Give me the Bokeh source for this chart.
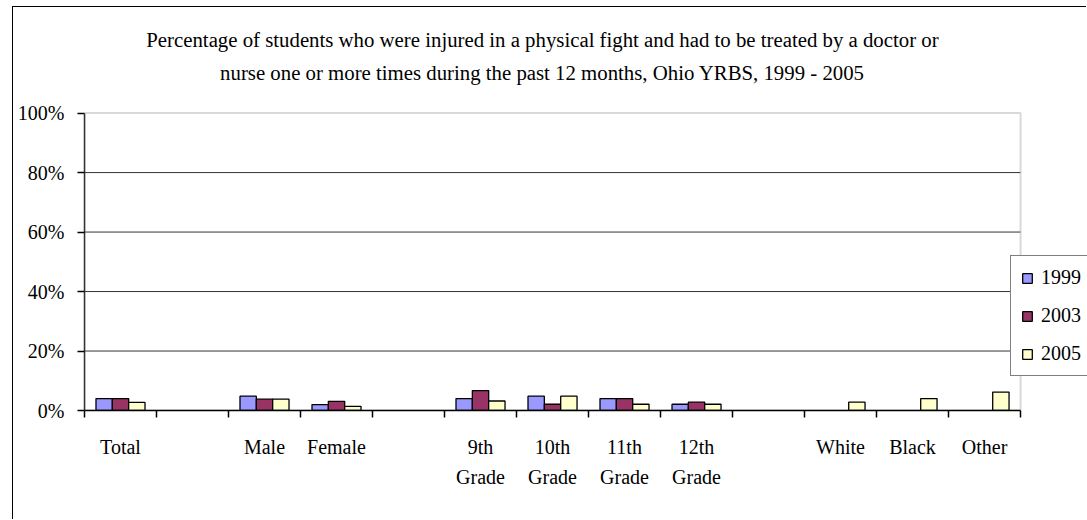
import numpy as np
from bokeh.plotting import figure
from bokeh.models import Range1d, FixedTicker, Label, Legend, LegendItem, ColumnDataSource, BoxAnnotation
from bokeh.transform import dodge
from bokeh.embed import file_html
from bokeh.resources import INLINE

title_text = ("Percentage of students who were injured in a physical fight and had to be treated by a doctor or\n"
              "nurse one or more times during the past 12 months, Ohio YRBS, 1999 - 2005")
categories = ["Total", "", "Male", "Female", "", "9th\nGrade", "10th\nGrade", "11th\nGrade",
              "12th\nGrade", "", "White", "Black", "Other"]
series_names = ["1999", "2003", "2005"]
nan = np.nan
v1999 = [4.0, nan, 4.8, 2.0, nan, 4.0, 4.8, 4.0, 2.1, nan, nan, nan, nan]
v2003 = [4.0, nan, 3.8, 3.1, nan, 6.7, 2.1, 4.0, 2.8, nan, nan, nan, nan]
v2005 = [2.7, nan, 3.8, 1.4, nan, 3.2, 4.8, 2.1, 2.1, nan, 2.8, 4.0, 6.2]
y_ticks = [0, 20, 40, 60, 80, 100]
y_tick_labels = ["0%", "20%", "40%", "60%", "80%", "100%"]

colors = ["#9999FF", "#993366", "#FFFFCC"]
FONT = "Liberation Serif"

n = len(categories)
centers = [i + 0.5 for i in range(n)]
bounds = [float(i) for i in range(n + 1)]
y_max = y_ticks[-1]

src = ColumnDataSource(data=dict(x=centers, v1999=np.array(v1999), v2003=np.array(v2003),
                                 v2005=np.array(v2005)))

# frame extends to the canvas top and right edge; the plot area box is drawn inside it
p = figure(width=1074, height=513, x_range=Range1d(0, 13.93), y_range=Range1d(0, 135.5),
           output_backend="svg", toolbar_location=None,
           min_border_left=71, min_border_right=0, min_border_top=0, min_border_bottom=110)
p.styles = {"margin-left": "12px", "margin-top": "6px",
            "border-left": "1px solid black", "border-top": "1px solid black"}
p.outline_line_color = None
p.background_fill_color = "white"
p.border_fill_color = "white"

# plot-area box
box = BoxAnnotation(left=0, right=n, bottom=0, top=y_max, fill_alpha=0,
                    line_color="#808080", line_width=2, level="underlay")
p.add_layout(box)

# horizontal gridlines limited to the plot area
grid_y = y_ticks[1:-1]
p.segment(x0=[0] * len(grid_y), x1=[n] * len(grid_y), y0=grid_y, y1=grid_y,
          line_color="#333333", line_width=1, level="underlay")
p.xgrid.grid_line_color = None
p.ygrid.grid_line_color = None

bw = 0.227
offsets = [-bw, 0.0, bw]
renderers = []
for name, col, off in zip(series_names, colors, offsets):
    r = p.vbar(x=dodge("x", off, range=p.x_range), top="v" + name, width=bw, bottom=0,
               source=src, fill_color=col, line_color="black", line_width=1.3)
    renderers.append(r)

# x axis
p.xaxis.bounds = (0, n)
p.xaxis.ticker = FixedTicker(ticks=centers, minor_ticks=bounds)
p.xaxis.major_label_overrides = {c: lab for c, lab in zip(centers, categories)}
p.xaxis.major_tick_line_color = None
p.xaxis.minor_tick_line_color = "black"
p.xaxis.minor_tick_line_width = 1.5
p.xaxis.minor_tick_out = 7
p.xaxis.minor_tick_in = 0
p.xaxis.axis_line_color = "black"
p.xaxis.axis_line_width = 1.5
p.xaxis.major_label_text_font = FONT
p.xaxis.major_label_text_font_size = "20px"
p.xaxis.major_label_text_color = "black"
p.xaxis.major_label_text_line_height = 1.4
p.xaxis.major_label_standoff = 18

# y axis
p.yaxis.bounds = (0, y_max)
p.yaxis.ticker = FixedTicker(ticks=y_ticks, minor_ticks=[])
p.yaxis.major_label_overrides = {t: lab for t, lab in zip(y_ticks, y_tick_labels)}
p.yaxis.major_tick_out = 7
p.yaxis.major_tick_in = 0
p.yaxis.major_tick_line_color = "black"
p.yaxis.major_tick_line_width = 1.3
p.yaxis.axis_line_color = "#333333"
p.yaxis.axis_line_width = 1.5
p.yaxis.major_label_text_font = FONT
p.yaxis.major_label_text_font_size = "20px"
p.yaxis.major_label_text_color = "black"
p.yaxis.major_label_standoff = 13

title = Label(x=6.36, y=119.2, text=title_text, text_align="center", text_baseline="middle",
              text_font=FONT, text_font_size="20.8px", text_color="black", text_line_height=1.4)
p.add_layout(title)

legend = Legend(items=[LegendItem(label=nm, renderers=[r]) for nm, r in zip(series_names, renderers)],
                location=(926, 34))
legend.border_line_color = "black"
legend.border_line_width = 1
legend.background_fill_color = "white"
legend.background_fill_alpha = 1
legend.padding = 10
legend.spacing = 15
legend.margin = 0
legend.label_height = 20
legend.glyph_width = 12
legend.glyph_height = 12
legend.label_standoff = 8
legend.label_text_font = FONT
legend.label_text_font_size = "20px"
legend.label_text_color = "black"
p.add_layout(legend)

open("out.html", "w").write(file_html(p, INLINE))
